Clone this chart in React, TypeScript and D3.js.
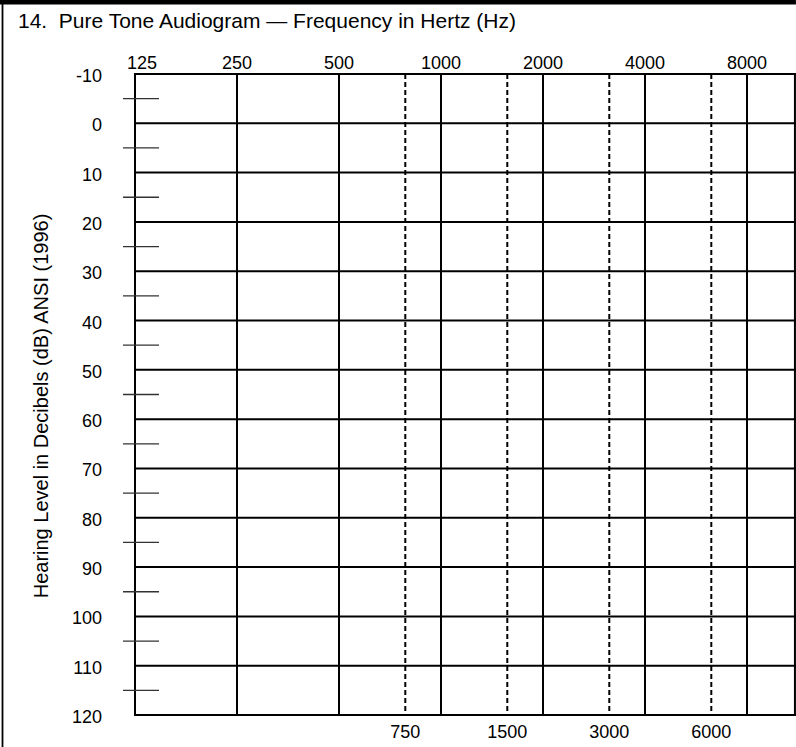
import { useEffect, useRef } from 'react';
import * as d3 from 'd3';

// octave frequencies (solid lines, labels on top)
const octaveFreqs = ['125', '250', '500', '1000', '2000', '4000', '8000'];
// inter-octave frequencies (dashed lines, labels at bottom) and where they sit between octaves
const interFreqs = ['750', '1500', '3000', '6000'];
const interPos = [2.65, 3.65, 4.65, 5.65];
// hearing level rows
const dbLevels = [-10, 0, 10, 20, 30, 40, 50, 60, 70, 80, 90, 100, 110, 120];
const minorLevels = [-5, 5, 15, 25, 35, 45, 55, 65, 75, 85, 95, 105, 115];

const title = '14.  Pure Tone Audiogram \u2014 Frequency in Hertz (Hz)';
const yTitle = 'Hearing Level in Decibels (dB) ANSI (1996)';

export default function App() {
  const svgRef = useRef<SVGSVGElement>(null);

  useEffect(() => {
    if (!svgRef.current) return;
    const W = 796;
    const H = 747;
    const margin = { top: 74, left: 135, bottom: 32 };
    const step = 102;
    const gridRight = margin.left + step * 6.47;

    d3.select(svgRef.current).selectAll('*').remove();

    const svg = d3.select(svgRef.current)
      .attr('width', W)
      .attr('height', H)
      .style('font-family', '"Liberation Sans", Arial, Helvetica, sans-serif');

    const x = d3.scaleLinear()
      .domain([0, 6.47])
      .range([margin.left, gridRight]);

    const y = d3.scaleLinear()
      .domain([-10, 120])
      .range([margin.top, H - margin.bottom]);

    // frame
    svg.append('line')
      .attr('x1', 0).attr('x2', gridRight + 1)
      .attr('y1', 2.3).attr('y2', 2.3)
      .attr('stroke', '#000').attr('stroke-width', 4.6);
    svg.append('line')
      .attr('x1', 2.5).attr('x2', 2.5)
      .attr('y1', 0).attr('y2', H)
      .attr('stroke', '#000').attr('stroke-width', 1.8);

    // title
    svg.append('text')
      .attr('x', 18)
      .attr('y', 28)
      .style('font-size', '21px')
      .style('white-space', 'pre')
      .text(title);

    // horizontal grid
    svg.append('g')
      .selectAll('line')
      .data(dbLevels)
      .join('line')
      .attr('x1', x(0) - 1).attr('x2', gridRight + 1)
      .attr('y1', d => y(d)).attr('y2', d => y(d))
      .attr('stroke', '#000').attr('stroke-width', 2);

    // octave lines
    svg.append('g')
      .selectAll('line')
      .data(octaveFreqs)
      .join('line')
      .attr('x1', (_, i) => x(i)).attr('x2', (_, i) => x(i))
      .attr('y1', y(-10)).attr('y2', y(120))
      .attr('stroke', '#000').attr('stroke-width', 2);

    // right edge
    svg.append('line')
      .attr('x1', gridRight).attr('x2', gridRight)
      .attr('y1', y(-10) - 1).attr('y2', y(120) + 1)
      .attr('stroke', '#000').attr('stroke-width', 2);

    // inter-octave dashed lines
    svg.append('g')
      .selectAll('line')
      .data(interPos)
      .join('line')
      .attr('x1', d => x(d)).attr('x2', d => x(d))
      .attr('y1', y(-10)).attr('y2', y(120))
      .attr('stroke', '#000').attr('stroke-width', 2)
      .attr('stroke-dasharray', '5,3');

    // 5 dB minor ticks
    svg.append('g')
      .selectAll('line')
      .data(minorLevels)
      .join('line')
      .attr('x1', x(0) - 12).attr('x2', x(0) + 24)
      .attr('y1', d => y(d)).attr('y2', d => y(d))
      .attr('stroke', '#333').attr('stroke-width', 1.3);

    // top labels
    svg.append('g')
      .selectAll('text')
      .data(octaveFreqs)
      .join('text')
      .attr('x', (_, i) => x(i) + (i === 0 ? 7 : 0))
      .attr('y', y(-10) - 5)
      .attr('text-anchor', 'middle')
      .style('font-size', '18px')
      .text(d => d);

    // bottom labels
    svg.append('g')
      .selectAll('text')
      .data(interFreqs)
      .join('text')
      .attr('x', (_, i) => x(interPos[i]))
      .attr('y', y(120) + 23)
      .attr('text-anchor', 'middle')
      .style('font-size', '18px')
      .text(d => d);

    // dB labels
    svg.append('g')
      .selectAll('text')
      .data(dbLevels)
      .join('text')
      .attr('x', 102)
      .attr('y', d => y(d) + 8)
      .attr('text-anchor', 'end')
      .style('font-size', '18px')
      .text(d => String(d));

    // y axis title
    svg.append('text')
      .attr('transform', 'rotate(-90)')
      .attr('x', -406)
      .attr('y', 48)
      .attr('text-anchor', 'middle')
      .style('font-size', '20px')
      .text(yTitle);
  }, []);

  return (
    <svg ref={svgRef} style={{ position: 'absolute', left: 0, top: 0, background: '#fff' }}></svg>
  );
}
